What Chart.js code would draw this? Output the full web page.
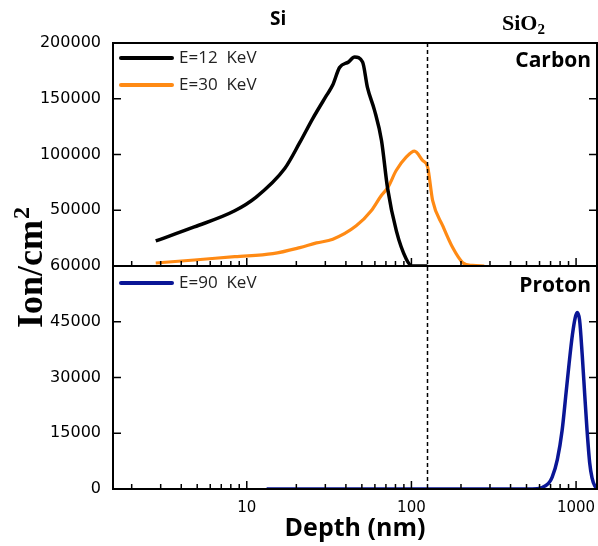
<!DOCTYPE html>
<html>
<head>
<meta charset="utf-8">
<script src="https://cdn.jsdelivr.net/npm/chart.js@4.4.1/dist/chart.umd.min.js"></script>
<style>
html, body { margin: 0; padding: 0; background: #fff; }
#wrap { width: 598px; height: 546px; position: relative; }
</style>
</head>
<body>
<div id="wrap"><canvas id="chart"></canvas></div>
<script>
// depth in nm, ions per cm2
var depth12 = [2.8, 4.8, 8.45, 11.3, 17, 21, 25.1, 30.5, 33.2, 36.6, 41.5, 45.2, 50.5, 54.1, 59.7, 65.8, 71.6, 81, 93, 101, 125];
var ion12 = [22500, 35000, 49500, 61300, 87400, 110800, 132000, 153000, 162000, 178000, 183000, 187400, 183000, 160000, 139600, 112600, 70000, 31500, 6300, 0, 0];

var depth30 = [2.8, 4.8, 8.45, 14.4, 21, 26.5, 33.3, 46.2, 57, 65.5, 72, 80.8, 92.9, 104.3, 117, 125.5, 134.6, 155, 178, 205, 235, 277];
var ion30 = [2700, 5400, 8400, 11100, 16500, 20700, 24000, 36000, 49500, 63000, 70500, 85600, 97600, 103000, 94600, 88600, 58600, 36000, 16500, 3000, 500, 0];

var depth90 = [13.2, 50, 150, 400, 541, 620, 680, 716, 770, 823, 870, 907, 950, 987, 1015, 1050, 1090, 1130, 1166, 1210, 1250, 1300, 1340];
var ion90 = [0, 0, 0, 0, 0, 400, 1500, 3200, 8000, 15800, 26000, 33750, 41500, 46000, 47500, 45500, 36000, 25000, 15800, 7000, 3000, 800, 200];

var seriesLabels = ['E=12  KeV', 'E=30  KeV', 'E=90  KeV'];
var seriesColors = ['#000000', '#ff8a14', '#0a1696'];
var xTickLabels = [10, 100, 1000];
var topTickLabels = [50000, 100000, 150000, 200000];
var bottomTickLabels = [0, 15000, 30000, 45000, 60000];
var interfaceDepth = 125;

function points(xs, ys) {
    return xs.map(function(x, i) { return { x: x, y: ys[i] }; });
}

var tickFont = { family: 'DejaVu Sans', size: 16 };

var framePlugin = {
    id: 'frame',
    afterDatasetsDraw: function(chart) {
        var ctx = chart.ctx, a = chart.chartArea;
        var x = chart.scales.x, yt = chart.scales.yTop, yb = chart.scales.yBottom;
        function line(x1, y1, x2, y2) {
            ctx.beginPath(); ctx.moveTo(x1, y1); ctx.lineTo(x2, y2); ctx.stroke();
        }
        ctx.save();
        ctx.strokeStyle = '#000';

        // Si / SiO2 boundary
        var xi = Math.round(x.getPixelForValue(interfaceDepth)) + 0.5;
        ctx.setLineDash([4, 3]);
        ctx.lineWidth = 1.5;
        line(xi, a.top, xi, a.bottom);
        ctx.setLineDash([]);

        // frame + panel split
        ctx.lineWidth = 2;
        ctx.strokeRect(a.left, a.top, a.right - a.left, a.bottom - a.top);
        line(a.left, yt.bottom, a.right, yt.bottom);

        // inner ticks
        ctx.lineWidth = 1.5;
        [yt, yb].forEach(function(s, i) {
            var majors = i === 0 ? topTickLabels : bottomTickLabels;
            s.ticks.forEach(function(t) {
                if (t.value <= s.min || t.value >= s.max) return;
                var py = s.getPixelForValue(t.value);
                var len = majors.indexOf(t.value) >= 0 ? 8 : 5;
                line(a.left, py, a.left + len, py);
                line(a.right, py, a.right - len, py);
            });
            for (var e = 0; e <= 3; e++) {
                for (var m = 1; m <= 9; m++) {
                    var v = m * Math.pow(10, e);
                    if (v <= x.min || v >= x.max) continue;
                    var px = x.getPixelForValue(v);
                    line(px, s.bottom, px, s.bottom - (m === 1 ? 8 : 5));
                }
            }
        });

        // legends
        var rows = [[0, yt.top + 15], [1, yt.top + 42], [2, yb.top + 17]];
        ctx.font = '17px "Open Sans"';
        ctx.textBaseline = 'middle';
        ctx.textAlign = 'left';
        rows.forEach(function(r) {
            var ds = chart.data.datasets[r[0]];
            ctx.strokeStyle = ds.borderColor;
            ctx.lineWidth = 4;
            ctx.lineCap = 'round';
            line(a.left + 8, r[1], a.left + 59, r[1]);
            ctx.fillStyle = '#222';
            ctx.fillText(ds.label, a.left + 66, r[1]);
        });

        // annotations
        ctx.fillStyle = '#000';
        ctx.textBaseline = 'alphabetic';
        ctx.font = 'bold 21px "Open Sans"';
        ctx.textAlign = 'right';
        ctx.fillText('Carbon', 591, 67);
        ctx.fillText('Proton', 591, 292);
        ctx.font = 'bold 19px "Open Sans"';
        ctx.textAlign = 'left';
        ctx.fillText('Si', 270, 25);
        ctx.font = 'bold 22px "Liberation Serif"';
        ctx.fillText('SiO', 502, 30);
        var w = ctx.measureText('SiO').width;
        ctx.font = 'bold 15px "Liberation Serif"';
        ctx.fillText('2', 502 + w, 34);

        // y title with superscript
        ctx.translate(42, 268);
        ctx.rotate(-Math.PI / 2);
        ctx.font = 'bold 36px "Liberation Serif"';
        var w1 = ctx.measureText('Ion/cm').width;
        ctx.font = 'bold 24px "Liberation Serif"';
        var w2 = ctx.measureText('2').width;
        var x0 = -(w1 + w2) / 2;
        ctx.font = 'bold 36px "Liberation Serif"';
        ctx.fillText('Ion/cm', x0, 0);
        ctx.font = 'bold 24px "Liberation Serif"';
        ctx.fillText('2', x0 + w1 + 1, -13);
        ctx.restore();
    }
};

function drawChart() {
    var ctx = document.getElementById('chart').getContext('2d');
    var myChart = new Chart(ctx, {
        type: 'line',
        data: {
            datasets: [{
                label: seriesLabels[0],
                data: points(depth12, ion12),
                yAxisID: 'yTop',
                borderColor: seriesColors[0],
                borderWidth: 3.5
            }, {
                label: seriesLabels[1],
                data: points(depth30, ion30),
                yAxisID: 'yTop',
                borderColor: seriesColors[1],
                borderWidth: 3.2
            }, {
                label: seriesLabels[2],
                data: points(depth90, ion90),
                yAxisID: 'yBottom',
                borderColor: seriesColors[2],
                borderWidth: 3.5
            }]
        },
        options: {
            responsive: true,
            maintainAspectRatio: false,
            animation: false,
            layout: { padding: { top: 43, right: 1, left: 0, bottom: 0 } },
            elements: {
                point: { radius: 0 },
                line: { cubicInterpolationMode: 'monotone', fill: false }
            },
            plugins: {
                legend: { display: false },
                tooltip: { enabled: false }
            },
            scales: {
                x: {
                    type: 'logarithmic',
                    min: 1.54,
                    max: 1340,
                    grid: { display: false, drawTicks: false },
                    border: { display: false },
                    ticks: {
                        autoSkip: false,
                        maxRotation: 0,
                        padding: 10,
                        color: '#000',
                        font: { family: 'DejaVu Sans', size: 15 },
                        callback: function(v) { return xTickLabels.indexOf(v) >= 0 ? String(v) : ''; }
                    },
                    title: {
                        display: true,
                        text: 'Depth (nm)',
                        color: '#000',
                        font: { family: 'Open Sans', size: 25, weight: 'bold' },
                        padding: { top: 0, bottom: 2 }
                    },
                    afterFit: function(s) {
                        s.height = 57;
                        s.paddingLeft = 0;
                        s.paddingRight = 0;
                    }
                },
                yBottom: {
                    type: 'linear',
                    position: 'left',
                    stack: 'panels',
                    stackWeight: 1,
                    weight: 0,
                    min: 0,
                    max: 60000,
                    grid: { display: false, drawTicks: false },
                    border: { display: false },
                    ticks: {
                        stepSize: 7500,
                        padding: 12,
                        color: '#000',
                        font: tickFont,
                        callback: function(v) { return bottomTickLabels.indexOf(v) >= 0 ? String(v) : ''; }
                    },
                    afterFit: function(s) { s.width = 113; }
                },
                yTop: {
                    type: 'linear',
                    position: 'left',
                    stack: 'panels',
                    stackWeight: 1,
                    weight: 1,
                    min: 0,
                    max: 200000,
                    grid: { display: false, drawTicks: false },
                    border: { display: false },
                    ticks: {
                        stepSize: 25000,
                        padding: 12,
                        color: '#000',
                        font: tickFont,
                        callback: function(v) { return topTickLabels.indexOf(v) >= 0 ? String(v) : ''; }
                    },
                    afterFit: function(s) { s.width = 113; }
                }
            }
        },
        plugins: [framePlugin]
    });
}

// canvas text needs the fonts ready before the first draw
Promise.all([
    document.fonts.load('17px "Open Sans"'),
    document.fonts.load('bold 21px "Open Sans"'),
    document.fonts.load('bold 36px "Liberation Serif"'),
    document.fonts.load('16px "DejaVu Sans"')
]).then(drawChart, drawChart);
</script>
</body>
</html>
